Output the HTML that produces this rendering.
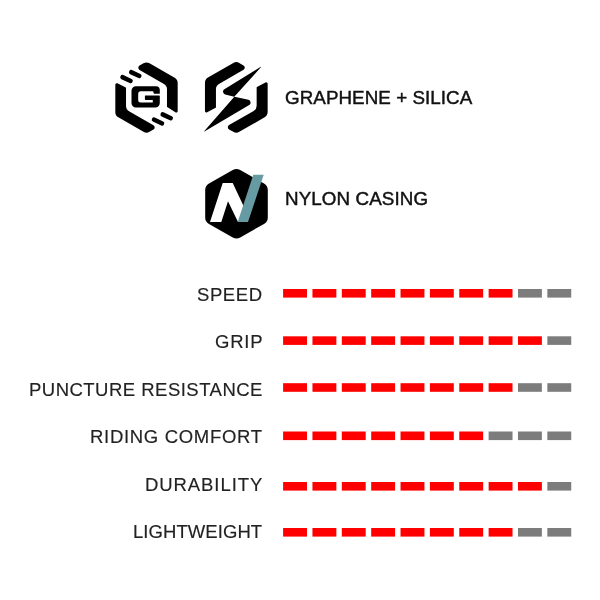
<!DOCTYPE html>
<html><head><meta charset="utf-8"><style>
html,body{margin:0;padding:0;background:#fff;}
body{width:600px;height:600px;position:relative;overflow:hidden;font-family:"Liberation Sans",sans-serif;}
svg{position:absolute;left:0;top:0;}
.lab{will-change:transform;-webkit-text-stroke:0.15px #222;position:absolute;right:338px;font-size:18.5px;line-height:18.5px;height:18.5px;color:#222;white-space:nowrap;margin-top:-3px;}
.feat{will-change:transform;-webkit-text-stroke:0.45px #111;position:absolute;font-size:18.8px;line-height:18.8px;color:#111;white-space:nowrap;margin-top:-3px;}
</style></head><body>
<svg width="600" height="600" viewBox="0 0 600 600">
<path d="M139.55,69.94 A2.50,2.50 0 0 1 139.55,65.61 L143.50,63.33 A6.00,6.00 0 0 1 149.50,63.33 L174.68,77.87 A6.00,6.00 0 0 1 177.68,83.06 L177.68,111.10 A1.50,1.50 0 0 1 175.35,112.35 L167.20,106.95 A0.50,0.50 0 0 1 166.98,106.53 L166.98,89.24 A6.00,6.00 0 0 0 163.98,84.05 Z"/>
<path d="M153.45,125.26 A2.50,2.50 0 0 1 153.45,129.59 L149.50,131.87 A6.00,6.00 0 0 1 143.50,131.87 L118.32,117.33 A6.00,6.00 0 0 1 115.32,112.14 L115.32,84.72 A1.50,1.50 0 0 1 117.49,83.37 L125.75,87.46 A0.50,0.50 0 0 1 126.02,87.91 L126.02,105.96 A6.00,6.00 0 0 0 129.02,111.15 Z"/>
<rect x="-6.60" y="-2.25" width="13.2" height="4.5" rx="2.0" transform="translate(126.5,79.1) rotate(25)"/>
<rect x="-6.60" y="-2.25" width="13.2" height="4.5" rx="2.0" transform="translate(135.25,74.1) rotate(25)"/>
<rect x="-6.60" y="-2.25" width="13.2" height="4.5" rx="2.0" transform="translate(166.7,116.3) rotate(25)"/>
<rect x="-6.60" y="-2.25" width="13.2" height="4.5" rx="2.0" transform="translate(158.0,121.5) rotate(25)"/>
<path d="M131.50,90.70 A4.50,4.50 0 0 1 136.00,86.20 L156.00,86.20 A3.80,3.80 0 0 1 159.80,90.00 L159.80,93.50 A0.30,0.30 0 0 1 159.50,93.80 L154.50,93.80 A1.00,1.00 0 0 1 153.50,92.80 L153.50,92.20 A1.00,1.00 0 0 0 152.50,91.20 L140.70,91.20 A2.50,2.50 0 0 0 138.20,93.70 L138.20,100.00 A2.50,2.50 0 0 0 140.70,102.50 L152.20,102.50 A0.60,0.60 0 0 0 152.80,101.90 L152.80,100.20 A0.30,0.30 0 0 0 152.50,99.90 L145.50,99.90 A0.60,0.60 0 0 1 144.90,99.30 L144.90,95.80 A0.30,0.30 0 0 1 145.20,95.50 L159.30,95.50 A0.50,0.50 0 0 1 159.80,96.00 L159.80,103.00 A4.50,4.50 0 0 1 155.30,107.50 L136.00,107.50 A4.50,4.50 0 0 1 131.50,103.00 Z"/>
<path d="M243.55,69.72 A2.50,2.50 0 0 0 243.55,65.39 L239.30,62.93 A6.00,6.00 0 0 0 233.30,62.93 L207.95,77.57 A6.00,6.00 0 0 0 204.95,82.76 L204.95,110.93 A1.50,1.50 0 0 0 207.14,112.27 L215.68,107.84 A0.50,0.50 0 0 0 215.95,107.40 L215.95,89.11 A6.00,6.00 0 0 1 218.95,83.92 Z"/>
<path d="M229.05,125.08 A2.50,2.50 0 0 0 229.05,129.41 L233.30,131.87 A6.00,6.00 0 0 0 239.30,131.87 L264.65,117.23 A6.00,6.00 0 0 0 267.65,112.04 L267.65,83.87 A1.50,1.50 0 0 0 265.46,82.53 L256.92,86.96 A0.50,0.50 0 0 0 256.65,87.40 L256.65,105.69 A6.00,6.00 0 0 1 253.65,110.88 Z"/>
<path d="M261.07,67.04 A0.20,0.20 0 0 0 260.81,66.74 L224.35,89.30 A2.80,2.80 0 0 0 225.15,94.40 L234.28,96.67 A0.20,0.20 0 0 0 234.48,96.61 Z"/>
<path d="M234.32,96.79 A0.20,0.20 0 0 1 234.52,96.73 L248.42,99.85 A2.80,2.80 0 0 1 249.23,104.99 L204.38,131.56 A0.20,0.20 0 0 1 204.13,131.26 Z"/>
<path d="M232.78,170.02 A7.50,7.50 0 0 1 240.22,170.02 L264.02,183.59 A7.50,7.50 0 0 1 267.80,190.11 L267.80,217.39 A7.50,7.50 0 0 1 264.02,223.91 L240.22,237.48 A7.50,7.50 0 0 1 232.78,237.48 L208.98,223.91 A7.50,7.50 0 0 1 205.20,217.39 L205.20,190.11 A7.50,7.50 0 0 1 208.98,183.59 Z"/>
<polygon fill="#fff" points="210,222 222.7,183 232.7,183 243.2,205.2 244,222 238,222 228,201.3 221.3,222"/>
<polygon fill="#679ba3" points="253.3,174.7 263.7,174.7 248,222 237.7,222"/>
<rect x="283.10" y="289.00" width="23.9" height="8.6" fill="#ff0000"/>
<rect x="312.46" y="289.00" width="23.9" height="8.6" fill="#ff0000"/>
<rect x="341.82" y="289.00" width="23.9" height="8.6" fill="#ff0000"/>
<rect x="371.18" y="289.00" width="23.9" height="8.6" fill="#ff0000"/>
<rect x="400.54" y="289.00" width="23.9" height="8.6" fill="#ff0000"/>
<rect x="429.90" y="289.00" width="23.9" height="8.6" fill="#ff0000"/>
<rect x="459.26" y="289.00" width="23.9" height="8.6" fill="#ff0000"/>
<rect x="488.62" y="289.00" width="23.9" height="8.6" fill="#ff0000"/>
<rect x="517.98" y="289.00" width="23.9" height="8.6" fill="#7c7c7c"/>
<rect x="547.34" y="289.00" width="23.9" height="8.6" fill="#7c7c7c"/>
<rect x="283.10" y="336.30" width="23.9" height="8.6" fill="#ff0000"/>
<rect x="312.46" y="336.30" width="23.9" height="8.6" fill="#ff0000"/>
<rect x="341.82" y="336.30" width="23.9" height="8.6" fill="#ff0000"/>
<rect x="371.18" y="336.30" width="23.9" height="8.6" fill="#ff0000"/>
<rect x="400.54" y="336.30" width="23.9" height="8.6" fill="#ff0000"/>
<rect x="429.90" y="336.30" width="23.9" height="8.6" fill="#ff0000"/>
<rect x="459.26" y="336.30" width="23.9" height="8.6" fill="#ff0000"/>
<rect x="488.62" y="336.30" width="23.9" height="8.6" fill="#ff0000"/>
<rect x="517.98" y="336.30" width="23.9" height="8.6" fill="#ff0000"/>
<rect x="547.34" y="336.30" width="23.9" height="8.6" fill="#7c7c7c"/>
<rect x="283.10" y="383.20" width="23.9" height="8.6" fill="#ff0000"/>
<rect x="312.46" y="383.20" width="23.9" height="8.6" fill="#ff0000"/>
<rect x="341.82" y="383.20" width="23.9" height="8.6" fill="#ff0000"/>
<rect x="371.18" y="383.20" width="23.9" height="8.6" fill="#ff0000"/>
<rect x="400.54" y="383.20" width="23.9" height="8.6" fill="#ff0000"/>
<rect x="429.90" y="383.20" width="23.9" height="8.6" fill="#ff0000"/>
<rect x="459.26" y="383.20" width="23.9" height="8.6" fill="#ff0000"/>
<rect x="488.62" y="383.20" width="23.9" height="8.6" fill="#ff0000"/>
<rect x="517.98" y="383.20" width="23.9" height="8.6" fill="#7c7c7c"/>
<rect x="547.34" y="383.20" width="23.9" height="8.6" fill="#7c7c7c"/>
<rect x="283.10" y="431.50" width="23.9" height="8.6" fill="#ff0000"/>
<rect x="312.46" y="431.50" width="23.9" height="8.6" fill="#ff0000"/>
<rect x="341.82" y="431.50" width="23.9" height="8.6" fill="#ff0000"/>
<rect x="371.18" y="431.50" width="23.9" height="8.6" fill="#ff0000"/>
<rect x="400.54" y="431.50" width="23.9" height="8.6" fill="#ff0000"/>
<rect x="429.90" y="431.50" width="23.9" height="8.6" fill="#ff0000"/>
<rect x="459.26" y="431.50" width="23.9" height="8.6" fill="#ff0000"/>
<rect x="488.62" y="431.50" width="23.9" height="8.6" fill="#7c7c7c"/>
<rect x="517.98" y="431.50" width="23.9" height="8.6" fill="#7c7c7c"/>
<rect x="547.34" y="431.50" width="23.9" height="8.6" fill="#7c7c7c"/>
<rect x="283.10" y="482.00" width="23.9" height="8.6" fill="#ff0000"/>
<rect x="312.46" y="482.00" width="23.9" height="8.6" fill="#ff0000"/>
<rect x="341.82" y="482.00" width="23.9" height="8.6" fill="#ff0000"/>
<rect x="371.18" y="482.00" width="23.9" height="8.6" fill="#ff0000"/>
<rect x="400.54" y="482.00" width="23.9" height="8.6" fill="#ff0000"/>
<rect x="429.90" y="482.00" width="23.9" height="8.6" fill="#ff0000"/>
<rect x="459.26" y="482.00" width="23.9" height="8.6" fill="#ff0000"/>
<rect x="488.62" y="482.00" width="23.9" height="8.6" fill="#ff0000"/>
<rect x="517.98" y="482.00" width="23.9" height="8.6" fill="#ff0000"/>
<rect x="547.34" y="482.00" width="23.9" height="8.6" fill="#7c7c7c"/>
<rect x="283.10" y="528.00" width="23.9" height="8.6" fill="#ff0000"/>
<rect x="312.46" y="528.00" width="23.9" height="8.6" fill="#ff0000"/>
<rect x="341.82" y="528.00" width="23.9" height="8.6" fill="#ff0000"/>
<rect x="371.18" y="528.00" width="23.9" height="8.6" fill="#ff0000"/>
<rect x="400.54" y="528.00" width="23.9" height="8.6" fill="#ff0000"/>
<rect x="429.90" y="528.00" width="23.9" height="8.6" fill="#ff0000"/>
<rect x="459.26" y="528.00" width="23.9" height="8.6" fill="#ff0000"/>
<rect x="488.62" y="528.00" width="23.9" height="8.6" fill="#ff0000"/>
<rect x="517.98" y="528.00" width="23.9" height="8.6" fill="#7c7c7c"/>
<rect x="547.34" y="528.00" width="23.9" height="8.6" fill="#7c7c7c"/>
</svg>
<div class="feat" style="left:285px;top:92px;letter-spacing:0.06px">GRAPHENE + SILICA</div>
<div class="feat" style="left:285px;top:193px;letter-spacing:0.1px">NYLON CASING</div>
<div class="lab" style="top:288.70px;letter-spacing:0.575px;margin-right:-0.57px">SPEED</div>
<div class="lab" style="top:336.20px;letter-spacing:0.77px;margin-right:-1.57px">GRIP</div>
<div class="lab" style="top:383.70px;letter-spacing:0.48px;margin-right:-0.48px">PUNCTURE RESISTANCE</div>
<div class="lab" style="top:431.20px;letter-spacing:0.69px;margin-right:-0.69px">RIDING COMFORT</div>
<div class="lab" style="top:478.70px;letter-spacing:0.92px;margin-right:-0.92px">DURABILITY</div>
<div class="lab" style="top:526.20px;letter-spacing:0.07px;margin-right:-0.07px">LIGHTWEIGHT</div>
</body></html>
